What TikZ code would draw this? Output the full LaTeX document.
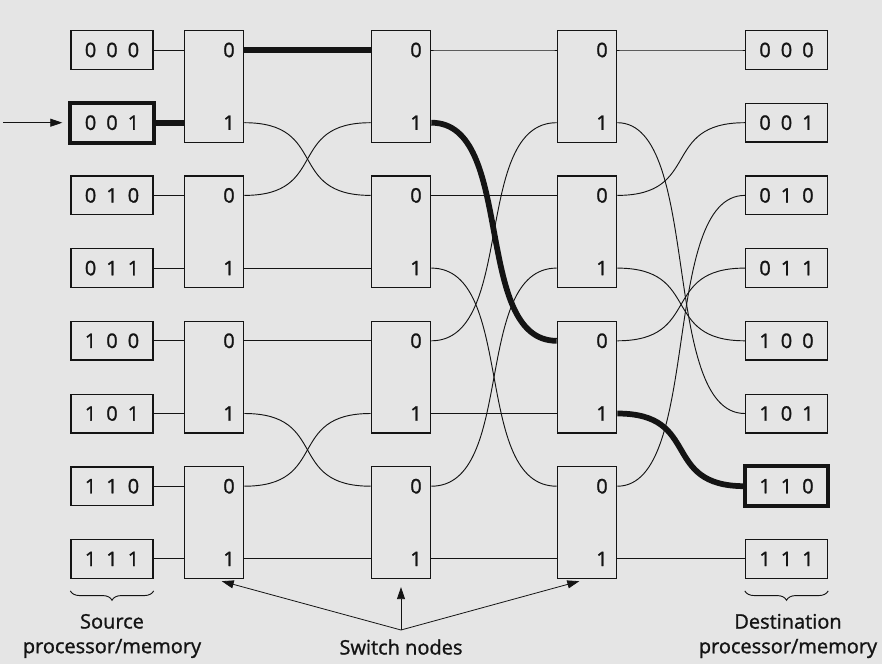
\documentclass[tikz,border=0pt]{standalone}
\usepackage{fontspec}
\setmainfont{Open Sans}
\newfontfamily\inkfont[RawFeature={embolden=1.2}]{Open Sans}
\usetikzlibrary{arrows.meta,decorations.pathreplacing}

\newcommand{\bitsep}{\hspace{0.5em}}

\begin{document}
\begin{tikzpicture}[
    x=0.75pt, y=-0.75pt,
    % Estilo de las cajas procesador/memoria
    pm box/.style={
        draw=ink, line width=1pt, inner sep=0pt,
        minimum width=61.5pt, minimum height=29pt,
        font=\inkfont\fontsize{15}{18}\selectfont, text=ink
    },
    % Estilo de los nodos de conmutación
    switch box/.style={
        draw=ink, line width=1pt, inner sep=0pt,
        minimum width=44.5pt, minimum height=83.8pt
    },
    % Etiquetas 0/1 de los puertos
    port label/.style={
        anchor=east, inner sep=0pt, xshift=-7pt,
        font=\inkfont\fontsize{15}{18}\selectfont, text=ink
    },
    % Cables finos y ruta resaltada
    wire/.style={draw=ink, line width=0.7pt},
    route wire/.style={draw=ink, line width=4.3pt},
    marked/.style={draw=ink, line width=3pt},
    pointer/.style={draw=ink, line width=0.6pt, shorten >=6pt,
        -{Triangle[length=9pt,width=6pt]}},
    brace line/.style={draw=ink, line width=0.7pt, decorate,
        decoration={brace, mirror, amplitude=7pt}},
    caption/.style={align=center, font=\inkfont\fontsize{15}{18.5}\selectfont, text=ink}
]
    % Colores
    \definecolor{paper}{RGB}{229, 229, 229}
    \definecolor{ink}{RGB}{20, 20, 20}

    % Parámetros generales
    \def\rowtop{50}   % centro de la primera fila
    \def\rowgap{72.7} % separación entre filas
    \def\bend{85}     % tirón horizontal de las curvas

    % Fondo y marco
    \path[use as bounding box, fill=paper] (0,0) rectangle (882,664);

    % Cajas de origen y destino: {fila / bits}
    \foreach \r/\ba/\bb/\bc in {0/0/0/0, 1/0/0/1, 2/0/1/0, 3/0/1/1,
                                4/1/0/0, 5/1/0/1, 6/1/1/0, 7/1/1/1}{
        \pgfmathsetmacro{\y}{\rowtop + \rowgap*\r}
        \node[pm box] (src\r) at (112,\y) {\ba\bitsep\bb\bitsep\bc};
        \node[pm box] (dst\r) at (786.5,\y) {\ba\bitsep\bb\bitsep\bc};
    }

    % Tres etapas de conmutadores 2x2
    \foreach \k in {0,...,3}{
        \pgfmathsetmacro{\yc}{\rowtop + \rowgap*(2*\k+0.5)}
        \node[switch box] (s1-\k) at (214,\yc) {};
        \node[switch box] (s2-\k) at (401,\yc) {};
        \node[switch box] (s3-\k) at (587,\yc) {};
    }

    % Etiquetas de puerto
    \foreach \r in {0,...,7}{
        \pgfmathtruncatemacro{\k}{\r/2}
        \pgfmathtruncatemacro{\p}{mod(\r,2)}
        \foreach \s in {1,2,3}
            \node[port label] (p\s-\r) at (s\s-\k.east |- src\r) {\p};
    }

    % Origen -> etapa 1
    \foreach \r in {0,2,3,4,5,6,7}{
        \pgfmathtruncatemacro{\k}{\r/2}
        \draw[wire] (src\r.east) -- (s1-\k.west |- src\r);
    }

    % Etapa 1 -> etapa 2
    \foreach \a/\b in {1/2, 2/1, 3/3, 4/4, 5/6, 6/5, 7/7}{
        \pgfmathtruncatemacro{\ka}{\a/2}
        \pgfmathtruncatemacro{\kb}{\b/2}
        \draw[wire] (s1-\ka.east |- src\a) .. controls +(\bend,0) and +(-\bend,0) .. (s2-\kb.west |- src\b);
    }

    % Etapa 2 -> etapa 3
    \foreach \a/\b in {0/0, 2/2, 3/6, 4/1, 5/5, 6/3, 7/7}{
        \pgfmathtruncatemacro{\ka}{\a/2}
        \pgfmathtruncatemacro{\kb}{\b/2}
        \draw[wire] (s2-\ka.east |- src\a) .. controls +(\bend,0) and +(-\bend,0) .. (s3-\kb.west |- src\b);
    }

    % Etapa 3 -> destino
    \foreach \a/\b in {0/0, 1/5, 2/1, 3/4, 4/3, 6/2, 7/7}{
        \pgfmathtruncatemacro{\ka}{\a/2}
        \draw[wire] (s3-\ka.east |- src\a) .. controls +(\bend,0) and +(-\bend,0) .. (dst\b.west);
    }

    % Ruta resaltada 001 -> 110
    \draw[route wire] (src1.east) -- (s1-0.west |- src1);
    \draw[route wire] (s1-0.east |- src0) -- (s2-0.west |- src0);
    \draw[route wire] (s2-0.east |- src1) .. controls +(\bend,0) and +(-\bend,0) .. (s3-2.west |- src4);
    \draw[route wire] (s3-2.east |- src5) .. controls +(\bend,0) and +(-\bend,0) .. (dst6.west);
    \draw[marked] (src1.north west) rectangle (src1.south east);
    \draw[marked] (dst6.north west) rectangle (dst6.south east);

    % Flecha de entrada
    \coordinate (feed) at (3,122.7);
    \draw[pointer] (feed) -- (src1.west);

    % Llaves y leyendas
    \draw[brace line] ([yshift=-9pt]src7.south west) -- ([yshift=-9pt]src7.south east);
    \draw[brace line] ([yshift=-9pt]dst7.south west) -- ([yshift=-9pt]dst7.south east);
    \node[caption] (srclabel) at (112,636) {Source\\processor/memory};
    \node[caption] (dstlabel) at (788,636) {Destination\\processor/memory};

    % Indicador de los nodos de conmutación
    \node[caption] (swlabel) at (401,647) {Switch nodes};
    \coordinate (swfan) at (401,630);
    \foreach \s in {1,2,3}
        \draw[pointer] (swfan) -- (s\s-3.south);

\end{tikzpicture}
\end{document}
